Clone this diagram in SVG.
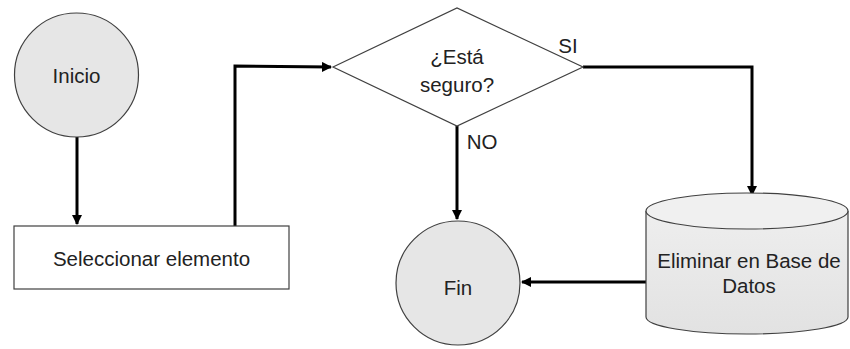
<svg xmlns="http://www.w3.org/2000/svg" width="850" height="349" viewBox="0 0 850 349">
  <defs>
    <marker id="arr" markerWidth="10" markerHeight="10" refX="9" refY="5" orient="auto" markerUnits="userSpaceOnUse">
      <path d="M0,0 L10,5 L0,10 Z" fill="#000"/>
    </marker>
    <linearGradient id="cyl" x1="0" y1="0" x2="0" y2="1">
      <stop offset="0" stop-color="#eeeeee"/>
      <stop offset="1" stop-color="#e2e2e2"/>
    </linearGradient>
  </defs>
  <style>
    .shape { stroke: #404040; stroke-width: 1.2; }
    .circ { fill: #e6e6e6; }
    .lbl { font-family: "Liberation Sans", Arial, sans-serif; font-size: 20.5px; fill: #222; text-anchor: middle; }
    .conn { fill: none; stroke: #000; stroke-width: 3; }
  </style>
  <rect width="850" height="349" fill="#fff"/>

  <g id="connectors">
    <path class="conn" d="M77,137 L77,224" marker-end="url(#arr)"/>
    <path class="conn" d="M235,226 L235,66 L331,67" marker-end="url(#arr)"/>
    <path class="conn" d="M583,67 L752,67 L752,195" marker-end="url(#arr)"/>
    <path class="conn" d="M457,126 L457,219" marker-end="url(#arr)"/>
    <path class="conn" d="M646,282 L522,282" marker-end="url(#arr)"/>
  </g>

  <g id="inicio">
    <circle class="shape circ" cx="76.5" cy="75" r="62"/>
    <text class="lbl" x="76.5" y="83">Inicio</text>
  </g>

  <g id="seleccionar">
    <rect class="shape" x="14" y="226" width="275" height="63" fill="#fff"/>
    <text class="lbl" x="151.5" y="266">Seleccionar elemento</text>
  </g>

  <g id="decision">
    <polygon class="shape" points="333,67 457,8 583,67 457,126" fill="#fff"/>
    <text class="lbl" x="457" y="64">¿Está</text>
    <text class="lbl" x="457" y="92">seguro?</text>
    <text class="lbl" x="568" y="53">SI</text>
    <text class="lbl" x="482" y="149">NO</text>
  </g>

  <g id="fin">
    <circle class="shape circ" cx="458" cy="283" r="62"/>
    <text class="lbl" x="458" y="295">Fin</text>
  </g>

  <g id="eliminar">
    <path class="shape" d="M646,211 L646,317 A101,17 0 0 0 848,317 L848,211" fill="url(#cyl)"/>
    <ellipse class="shape" cx="747" cy="211" rx="101" ry="18" fill="#f0f0f0"/>
    <text class="lbl" x="749" y="268">Eliminar en Base de</text>
    <text class="lbl" x="749" y="293">Datos</text>
  </g>
</svg>
